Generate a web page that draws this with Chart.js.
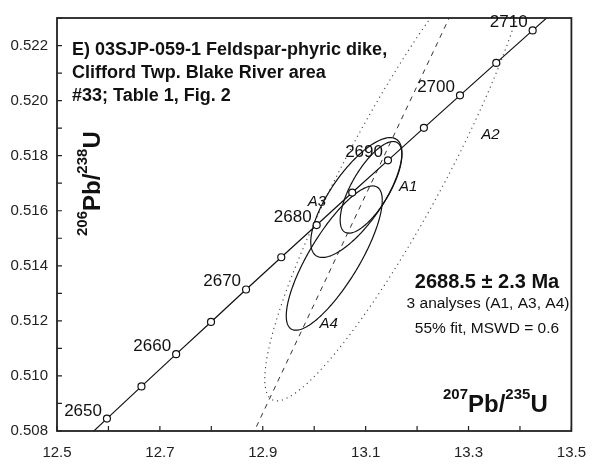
<!DOCTYPE html>
<html lang="en">
<head>
  <meta charset="UTF-8" />
  <title>Concordia 03SJP-059-1</title>
  <script src="https://cdn.jsdelivr.net/npm/chart.js"></script>
  <style>
    body { margin: 0; background: #fff; }
    .wrap { width: 599px; height: 464px; position: relative; }
  </style>
</head>
<body>
  <div class="wrap"><canvas id="c"></canvas></div>

  <script>
    // concordia curve (ages in Ma) and the ratios at each age
    const concAges = [2645, 2650, 2655, 2660, 2665, 2670, 2675, 2680, 2685, 2690, 2695, 2700, 2705, 2710, 2715];
    const concX = [12.5303, 12.5971, 12.6642, 12.7316, 12.7994, 12.8675, 12.9360, 13.0048, 13.0739, 13.1434, 13.2132, 13.2834, 13.3539, 13.4247, 13.4959];
    const concY = [0.50727, 0.50845, 0.50962, 0.51079, 0.51196, 0.51314, 0.51431, 0.51548, 0.51666, 0.51783, 0.51901, 0.52019, 0.52137, 0.52255, 0.52373];
    const ageLabels = [2650, 2660, 2670, 2680, 2690, 2700, 2710];

    // error ellipses: centre, sigma x, sigma y, correlation
    const ellNames = ['A1', 'A2', 'A3', 'A4'];
    const ellX = [13.1105, 13.1610, 13.0819, 13.0390];
    const ellY = [0.51685, 0.51759, 0.51648, 0.51428];
    const ellSx = [0.0600, 0.2571, 0.0886, 0.0933];
    const ellSy = [0.001664, 0.008496, 0.002177, 0.002620];
    const ellRho = [0.716, 0.907, 0.742, 0.800];
    const ellDotted = [false, true, false, false];
    const ellLabelX = [13.1648, 13.3248, 12.9876, 13.0105];
    const ellLabelY = [0.51671, 0.51862, 0.51618, 0.51175];

    // dashed reference line
    const lineX = [12.871, 13.275];
    const lineY = [0.5075, 0.5235];

    const titleLines = ['E) 03SJP-059-1 Feldspar-phyric dike,', 'Clifford Twp. Blake River area', '#33; Table 1, Fig. 2'];
    const statLines = ['2688.5 \u00b1 2.3 Ma', '3 analyses (A1, A3, A4)', '55% fit, MSWD = 0.6'];

    const FONT = 'Arial, "Liberation Sans", sans-serif';
    const INK = '#111';

    const extras = {
      id: 'extras',
      beforeDatasetsDraw(chart) {
        const { ctx, chartArea: a, scales: { x, y } } = chart;
        ctx.save();
        ctx.beginPath();
        ctx.rect(a.left, a.top, a.right - a.left, a.bottom - a.top);
        ctx.clip();
        ellNames.forEach((n, i) => {
          const r2 = Math.sqrt(1 - ellRho[i] * ellRho[i]);
          ctx.beginPath();
          for (let k = 0; k <= 240; k++) {
            const t = k / 240 * Math.PI * 2;
            const vx = ellX[i] + ellSx[i] * Math.cos(t);
            const vy = ellY[i] + ellSy[i] * (ellRho[i] * Math.cos(t) + r2 * Math.sin(t));
            const px = x.getPixelForValue(vx), py = y.getPixelForValue(vy);
            if (k === 0) ctx.moveTo(px, py); else ctx.lineTo(px, py);
          }
          ctx.strokeStyle = ellDotted[i] ? '#444' : INK;
          ctx.lineWidth = ellDotted[i] ? 1.1 : 1.2;
          ctx.setLineDash(ellDotted[i] ? [1.2, 3.8] : []);
          ctx.stroke();
        });
        ctx.restore();
      },
      afterDraw(chart) {
        const { ctx, chartArea: a, scales: { x, y } } = chart;
        ctx.save();
        // frame
        ctx.strokeStyle = '#222';
        ctx.lineWidth = 1.8;
        ctx.strokeRect(a.left, a.top, a.right - a.left, a.bottom - a.top);
        // inward ticks
        ctx.lineWidth = 1.2;
        ctx.beginPath();
        x.ticks.forEach(t => {
          const px = x.getPixelForValue(t.value);
          ctx.moveTo(px, a.bottom); ctx.lineTo(px, a.bottom - 5);
        });
        y.ticks.forEach(t => {
          const py = y.getPixelForValue(t.value);
          ctx.moveTo(a.left, py); ctx.lineTo(a.left + 5, py);
        });
        ctx.stroke();

        ctx.fillStyle = INK;
        // title block
        ctx.font = 'bold 18px ' + FONT;
        ctx.textAlign = 'left';
        ctx.textBaseline = 'alphabetic';
        titleLines.forEach((s, i) => ctx.fillText(s, a.left + 15, a.top + 37 + i * 23));

        // age labels on concordia
        ctx.font = '17px ' + FONT;
        ctx.textAlign = 'right';
        ageLabels.forEach(age => {
          const i = concAges.indexOf(age);
          const px = x.getPixelForValue(concX[i]), py = y.getPixelForValue(concY[i]);
          ctx.fillText(String(age), px - 5, py - 3);
        });

        // ellipse labels
        ctx.font = 'italic 15px ' + FONT;
        ctx.textAlign = 'left';
        ellNames.forEach((n, i) => {
          ctx.fillText(n, x.getPixelForValue(ellLabelX[i]), y.getPixelForValue(ellLabelY[i]));
        });

        // result text
        ctx.textAlign = 'center';
        ctx.font = 'bold 20px ' + FONT;
        ctx.fillText(statLines[0], 487, 288);
        ctx.font = '15.5px ' + FONT;
        ctx.fillText(statLines[1], 488, 308);
        ctx.fillText(statLines[2], 487, 333);

        // axis titles with superscripts
        const isoText = (parts, x0, y0) => {
          let cx = x0;
          parts.forEach(([s, sup]) => {
            ctx.font = 'bold ' + (sup ? 15 : 24) + 'px ' + FONT;
            ctx.fillText(s, cx, sup ? y0 - 13 : y0);
            cx += ctx.measureText(s).width;
          });
        };
        ctx.textAlign = 'left';
        isoText([['207', 1], ['Pb/', 0], ['235', 1], ['U', 0]], 443, 412);
        ctx.save();
        ctx.translate(100, 236);
        ctx.rotate(-Math.PI / 2);
        isoText([['206', 1], ['Pb/', 0], ['238', 1], ['U', 0]], 0, 0);
        ctx.restore();

        ctx.restore();
      }
    };

    new Chart(document.getElementById('c'), {
      type: 'scatter',
      data: {
        datasets: [
          {
            label: 'concordia',
            data: concX.map((v, i) => ({ x: v, y: concY[i] })),
            showLine: true,
            borderColor: INK,
            borderWidth: 1.2,
            pointRadius: concAges.map(t => (t >= 2650 && t <= 2710) ? 3.5 : 0),
            pointBackgroundColor: '#fff',
            pointBorderColor: INK,
            pointBorderWidth: 1.2,
            order: 0
          },
          {
            label: 'reference line',
            data: lineX.map((v, i) => ({ x: v, y: lineY[i] })),
            showLine: true,
            borderColor: '#333',
            borderWidth: 1,
            borderDash: [5, 5],
            pointRadius: 0,
            order: 1
          }
        ]
      },
      options: {
        responsive: true,
        maintainAspectRatio: false,
        animation: false,
        layout: { padding: { top: 9, right: 17, left: 0, bottom: 0 } },
        plugins: { legend: { display: false }, tooltip: { enabled: false } },
        scales: {
          x: {
            type: 'linear',
            min: 12.5, max: 13.5,
            grid: { display: false, drawTicks: false },
            border: { display: false },
            afterFit: s => { s.height = 33; },
            ticks: {
              stepSize: 0.1,
              padding: 13,
              color: '#222',
              font: { family: FONT, size: 15 },
              autoSkip: false,
              maxRotation: 0,
              callback: v => (Math.round(v * 10) % 2 === 1 ? v.toFixed(1) : '')
            }
          },
          y: {
            type: 'linear',
            min: 0.508, max: 0.523,
            grid: { display: false, drawTicks: false },
            border: { display: false },
            afterFit: s => { s.width = 57; },
            ticks: {
              stepSize: 0.001,
              padding: 9,
              color: '#222',
              font: { family: FONT, size: 15 },
              autoSkip: false,
              callback: v => (Math.round(v * 1000) % 2 === 0 ? v.toFixed(3) : '')
            }
          }
        }
      },
      plugins: [extras]
    });
  </script>
</body>
</html>
